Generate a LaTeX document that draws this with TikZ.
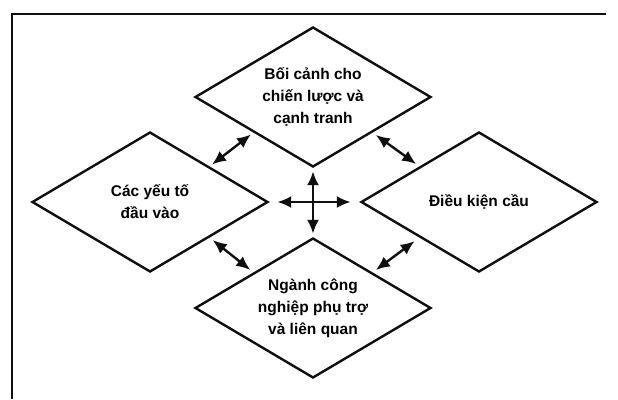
\documentclass[tikz,border=0pt]{standalone}
\usepackage{fontspec}
\setmainfont{Liberation Sans}
\usepackage{xcolor}
\usepackage{tikz}
\usetikzlibrary{positioning,arrows.meta,shapes.geometric}
\definecolor{dInk}{RGB}{15,15,15}
\tikzset{
  facet/.style={diamond, aspect=1.67, draw=dInk, fill=white, line width=2.4pt,
                minimum width=236pt, minimum height=140pt, inner sep=0pt,
                align=center, font=\fontsize{15.5}{22}\selectfont\bfseries},
  link/.style={{Latex[length=14pt,width=12pt]}-{Latex[length=14pt,width=12pt]},
               draw=dInk, line width=2.4pt},
  frame/.style={draw=dInk, line width=2pt},
}

\begin{document}
\begin{tikzpicture}[x=1pt, y=-1pt]
  \useasboundingbox (0,0) rectangle (618,399);
  % open frame, cut off at right and bottom
  \draw[frame] (12,399) -- (12,14) -- (606,14);

  \node[facet] (ctx)    at (313,97)  {Bối cảnh cho\\chiến lược và\\cạnh tranh};
  \node[facet] (input)  at (150,202) {Các yếu tố\\đầu vào};
  \node[facet] (demand) at (479,202) {Điều kiện cầu};
  \node[facet] (rel)    at (313,308) {Ngành công\\nghiệp phụ trợ\\và liên quan};

  % side links between neighbouring diamonds
  \draw[link, shorten <=3pt, shorten >=3pt] (ctx.south west) -- (input.north east);
  \draw[link, shorten <=4pt, shorten >=4pt] (ctx.south east) -- (demand.north west);
  \draw[link, shorten <=4pt, shorten >=4pt] (input.south east) -- (rel.north west);
  \draw[link, shorten <=6pt, shorten >=4pt] (demand.south west) -- (rel.north east);
  % centre cross
  \draw[link, shorten <=8pt, shorten >=9pt] (input.east) -- (demand.west);
  \draw[link, shorten <=3pt, shorten >=3pt] (ctx.south) -- (rel.north);
\end{tikzpicture}
\end{document}
